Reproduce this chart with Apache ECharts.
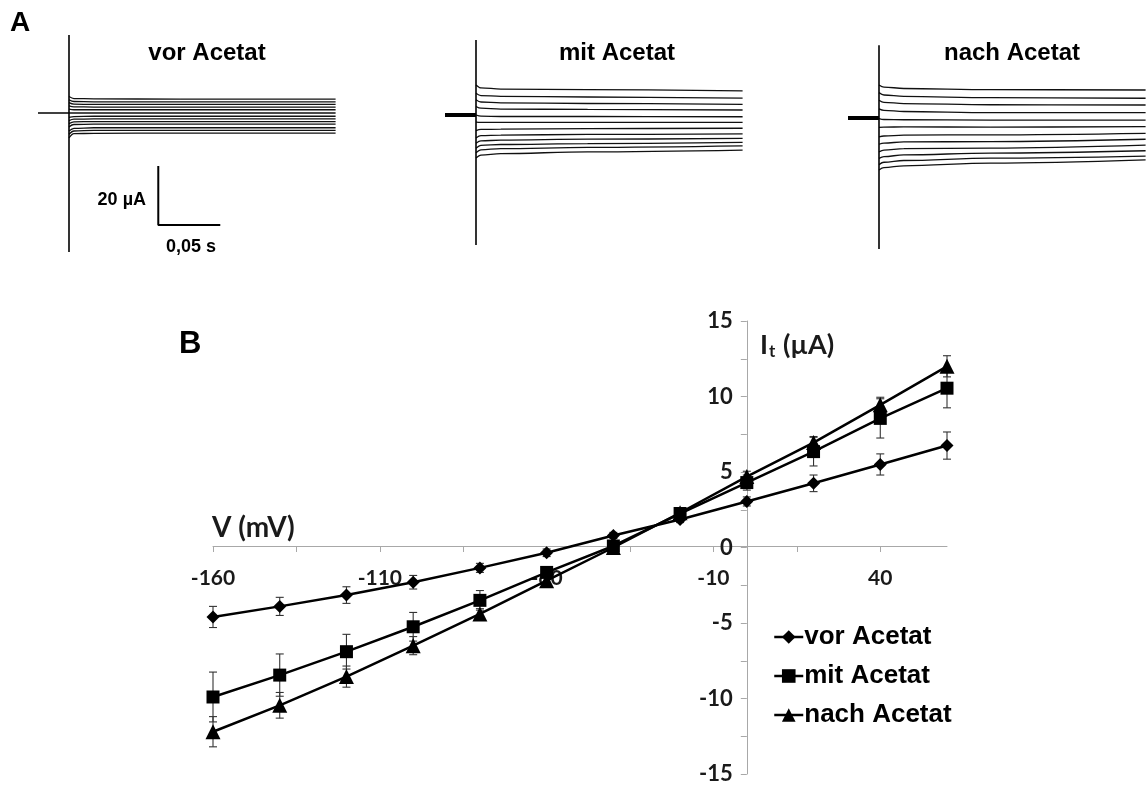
<!DOCTYPE html>
<html><head><meta charset="utf-8">
<script src="https://cdn.jsdelivr.net/npm/echarts@6/dist/echarts.min.js"></script>
<style>html,body{margin:0;padding:0;background:#fff}#c{width:1147px;height:785px}</style>
</head><body><div id="c"></div>
<script>
// ---------- Panel A: current traces (µA relative to holding level) ----------
const panelTitles = ['vor Acetat', 'mit Acetat', 'nach Acetat'];
const traceTimes = [0, 4, 20, 90, 215]; // ms after voltage step
const tracesVor = [
  [5.6, 4.9, 4.8, 4.7, 4.7],
  [4.5, 3.9, 3.8, 3.8, 3.8],
  [3.5, 3.0, 2.9, 2.9, 2.9],
  [2.4, 2.1, 2.0, 2.0, 2.0],
  [1.3, 1.1, 1.1, 1.1, 1.1],
  [0.0, 0.0, 0.0, 0.0, 0.0],
  [-1.5, -1.2, -1.1, -1.1, -1.1],
  [-2.6, -2.1, -2.0, -2.0, -2.0],
  [-3.6, -3.0, -2.9, -2.9, -2.9],
  [-4.7, -3.9, -3.8, -3.8, -3.8],
  [-6.1, -5.2, -5.0, -5.0, -5.0],
  [-7.2, -6.1, -5.9, -5.9, -5.9],
  [-8.4, -7.0, -6.9, -6.8, -6.8]
];
const tracesMit = [
  [10.2, 9.2, 8.8, 8.6, 8.2],
  [7.4, 6.6, 6.3, 6.1, 5.7],
  [5.2, 4.4, 4.1, 3.9, 3.6],
  [2.9, 2.3, 2.0, 1.9, 1.7],
  [0.0, -0.4, -0.5, -0.5, -0.6],
  [-2.4, -2.5, -2.5, -2.5, -2.5],
  [-5.3, -4.9, -4.8, -4.6, -4.5],
  [-7.8, -7.0, -6.8, -6.6, -6.4],
  [-9.6, -8.8, -8.5, -8.2, -7.9],
  [-11.3, -10.3, -10.0, -9.7, -9.3],
  [-12.8, -11.8, -11.4, -11.0, -10.5],
  [-14.6, -13.6, -13.1, -12.5, -11.9]
];
const tracesNach = [
  [11.2, 10.5, 10.0, 9.6, 9.5],
  [8.6, 7.8, 7.3, 6.9, 6.7],
  [6.0, 5.3, 4.9, 4.5, 4.4],
  [3.1, 2.6, 2.2, 1.8, 1.8],
  [-0.2, -0.5, -0.6, -0.7, -0.7],
  [-3.2, -3.1, -3.0, -3.1, -2.9],
  [-6.4, -6.1, -5.8, -5.7, -5.2],
  [-8.9, -8.5, -8.1, -8.0, -7.2],
  [-11.5, -10.9, -10.4, -10.2, -9.2],
  [-13.7, -13.1, -12.5, -11.9, -11.1],
  [-15.8, -15.0, -14.4, -13.6, -12.9],
  [-17.6, -16.8, -16.2, -15.3, -14.2]
];
const artifactTop = [26.4, 25.4, 24.7];      // µA, capacitive spike
const artifactBottom = [-47.1, -44.1, -44.4];
const holdingStart = -25;                     // ms
const scaleBarCorner = [72, -38];             // [ms, µA]
const scaleBarCurrent = 20;                   // µA
const scaleBarTime = 50;                      // ms

// ---------- Panel B: I-V relation ----------
const voltages = [-160, -140, -120, -100, -80, -60, -40, -20, 0, 20, 40, 60];
const vorMean  = [-4.6, -3.9, -3.15, -2.3, -1.35, -0.35, 0.8, 1.85, 3.05, 4.25, 5.5, 6.75];
const vorErr   = [0.7, 0.6, 0.55, 0.45, 0.3, 0.25, 0.2, 0.2, 0.3, 0.55, 0.7, 0.9];
const mitMean  = [-9.9, -8.45, -6.9, -5.25, -3.5, -1.65, 0.1, 2.25, 4.3, 6.35, 8.55, 10.55];
const mitErr   = [1.65, 1.4, 1.15, 0.95, 0.65, 0.3, 0.25, 0.3, 0.5, 0.95, 1.3, 1.3];
const nachMean = [-12.2, -10.45, -8.55, -6.5, -4.4, -2.2, 0.0, 2.3, 4.7, 6.95, 9.45, 12.0];
const nachErr  = [1.0, 0.85, 0.7, 0.6, 0.35, 0.25, 0.25, 0.25, 0.35, 0.4, 0.5, 0.7];
const xLabelValues = [-160, -110, -60, -10, 40];
const xTickValues = [-160, -135, -110, -85, -60, -35, -10, 15, 40];
const yLabelValues = [-15, -10, -5, 0, 5, 10, 15];

// ---------- build ----------
const panelLeft = [38, 445, 848];
const panelTop = [24.5, 26.5, 29.5];
const panelStubWidth = [1.6, 4, 4];
const allTraces = [tracesVor, tracesMit, tracesNach];

const grids = [], xAxes = [], yAxes = [], series = [];
for (let p = 0; p < 3; p++) {
  grids.push({left: panelLeft[p], top: panelTop[p], width: 240 * 1.24, height: 80 * 2.95});
  xAxes.push({gridIndex: p, type: 'value', min: -25, max: 215, show: false});
  yAxes.push({gridIndex: p, type: 'value', min: -50, max: 30, show: false});
  allTraces[p].forEach(row => {
    series.push({
      type: 'line', xAxisIndex: p, yAxisIndex: p, silent: true,
      data: traceTimes.map((t, i) => [t, row[i]]),
      showSymbol: false, smooth: 0.35, smoothMonotone: 'x',
      lineStyle: {color: '#111', width: 1.3}, clip: false
    });
  });
  series.push({
    type: 'line', xAxisIndex: p, yAxisIndex: p, silent: true, showSymbol: false,
    data: [[0, artifactTop[p]], [0, artifactBottom[p]]],
    lineStyle: {color: '#000', width: 1.6}
  });
  series.push({
    type: 'line', xAxisIndex: p, yAxisIndex: p, silent: true, showSymbol: false,
    data: [[holdingStart, 0], [0, 0]],
    lineStyle: {color: '#000', width: panelStubWidth[p]}
  });
}
// scale bar in panel 1
series.push({
  type: 'line', xAxisIndex: 0, yAxisIndex: 0, silent: true, showSymbol: false,
  data: [[scaleBarCorner[0], scaleBarCorner[1] + scaleBarCurrent], scaleBarCorner,
         [scaleBarCorner[0] + scaleBarTime, scaleBarCorner[1]]],
  lineStyle: {color: '#000', width: 2}
});

// Panel B
const B = 3;
const bGrid = {left: 213, top: 321, width: 734, height: 456};
const xMin = -160, xMax = 60, yMin = -15, yMax = 15;
grids.push(bGrid);
// axes cross at zero: shift the bottom/left axes onto the zero lines
const xAxisShift = -bGrid.height * (0 - yMin) / (yMax - yMin);
const yAxisShift = -bGrid.width * (0 - xMin) / (xMax - xMin);
const axisFont = {fontFamily: 'Lato', fontWeight: 'bold', fontSize: 21, color: '#1a1a1a'};
xAxes.push({
  gridIndex: B, type: 'value', min: xMin, max: xMax, position: 'bottom', offset: xAxisShift,
  axisLine: {onZero: false, lineStyle: {color: '#a8a8a8', width: 1}},
  axisTick: {show: true, length: 6, customValues: xTickValues, lineStyle: {color: '#a8a8a8'}},
  axisLabel: Object.assign({customValues: xLabelValues, margin: 22}, axisFont),
  splitLine: {show: false}
});
yAxes.push({
  gridIndex: B, type: 'value', min: yMin, max: yMax, interval: 2.5, position: 'left', offset: yAxisShift,
  axisLine: {show: true, onZero: false, lineStyle: {color: '#a8a8a8', width: 1}},
  axisTick: {show: true, length: 6, lineStyle: {color: '#a8a8a8'}},
  axisLabel: Object.assign({customValues: yLabelValues, margin: 14}, axisFont, {fontSize: 22}),
  splitLine: {show: false}
});

function errSeries(mean, err) {
  return {
    type: 'custom', xAxisIndex: B, yAxisIndex: B, silent: true, z: 1,
    data: voltages.map((v, i) => [v, mean[i] - err[i], mean[i] + err[i]]),
    encode: {x: 0, y: [1, 2]},
    renderItem(params, api) {
      const x = api.value(0);
      const lo = api.coord([x, api.value(1)]);
      const hi = api.coord([x, api.value(2)]);
      const w = 4, st = {stroke: '#333', lineWidth: 1.1};
      return {type: 'group', children: [
        {type: 'line', shape: {x1: lo[0], y1: lo[1], x2: hi[0], y2: hi[1]}, style: st},
        {type: 'line', shape: {x1: lo[0] - w, y1: lo[1], x2: lo[0] + w, y2: lo[1]}, style: st},
        {type: 'line', shape: {x1: hi[0] - w, y1: hi[1], x2: hi[0] + w, y2: hi[1]}, style: st}
      ]};
    }
  };
}
function ivSeries(name, mean, symbol, size) {
  return {
    type: 'line', name, xAxisIndex: B, yAxisIndex: B, z: 3,
    data: voltages.map((v, i) => [v, mean[i]]),
    symbol, symbolSize: size, showAllSymbol: true,
    lineStyle: {color: '#000', width: 2.5},
    itemStyle: {color: '#000', borderWidth: 0}
  };
}
series.push(errSeries(vorMean, vorErr), errSeries(mitMean, mitErr), errSeries(nachMean, nachErr));
series.push(ivSeries('vor Acetat', vorMean, 'diamond', 13));
series.push(ivSeries('mit Acetat', mitMean, 'rect', 13));
series.push(ivSeries('nach Acetat', nachMean, 'triangle', 15));

const titleFont = 'bold 24px "Liberation Sans", Arial, sans-serif';
const graphic = [
  {type: 'text', left: 10, top: 9, style: {text: 'A', font: 'bold 28px "Liberation Sans", Arial', fill: '#000'}},
  {type: 'text', left: 179, top: 329, style: {text: 'B', font: 'bold 31px "Liberation Sans", Arial', fill: '#000'}},
  {type: 'text', x: 207, y: 53, style: {text: panelTitles[0], font: titleFont, fill: '#000', align: 'center', verticalAlign: 'middle'}},
  {type: 'text', x: 617, y: 53, style: {text: panelTitles[1], font: titleFont, fill: '#000', align: 'center', verticalAlign: 'middle'}},
  {type: 'text', x: 1012, y: 53, style: {text: panelTitles[2], font: titleFont, fill: '#000', align: 'center', verticalAlign: 'middle'}},
  {type: 'text', x: 146, y: 200, style: {text: '20 µA', font: 'bold 18px "Liberation Sans", Arial', fill: '#000', align: 'right', verticalAlign: 'middle'}},
  {type: 'text', x: 191, y: 247, style: {text: '0,05 s', font: 'bold 18px "Liberation Sans", Arial', fill: '#000', align: 'center', verticalAlign: 'middle'}},
  {type: 'text', x: 212, y: 528, style: {text: 'V (mV)', font: 'bold 28px Lato', fill: '#1a1a1a', verticalAlign: 'middle'}},
  {type: 'text', x: 760, y: 345, style: {
    text: '{a|I}{b|t}{a| (µA)}', fill: '#1a1a1a', verticalAlign: 'middle',
    rich: {a: {fontFamily: 'Lato', fontWeight: 'bold', fontSize: 27, fill: '#1a1a1a'},
           b: {fontFamily: 'Lato', fontWeight: 'bold', fontSize: 17, fill: '#1a1a1a', padding: [13, 1, 0, 1]}}
  }}
];

const chart = echarts.init(document.getElementById('c'));
chart.setOption({
  animation: false,
  grid: grids, xAxis: xAxes, yAxis: yAxes, series, graphic,
  legend: {
    data: ['vor Acetat', 'mit Acetat', 'nach Acetat'],
    orient: 'vertical', left: 768, top: 619, itemWidth: 29, itemHeight: 17, itemGap: 13,
    lineStyle: {width: 2.5, color: '#000'},
    textStyle: {fontFamily: 'Liberation Sans', fontWeight: 'bold', fontSize: 26, color: '#000', padding: [0, 0, 0, -4]},
    selectedMode: false
  }
});
</script>
</body></html>
